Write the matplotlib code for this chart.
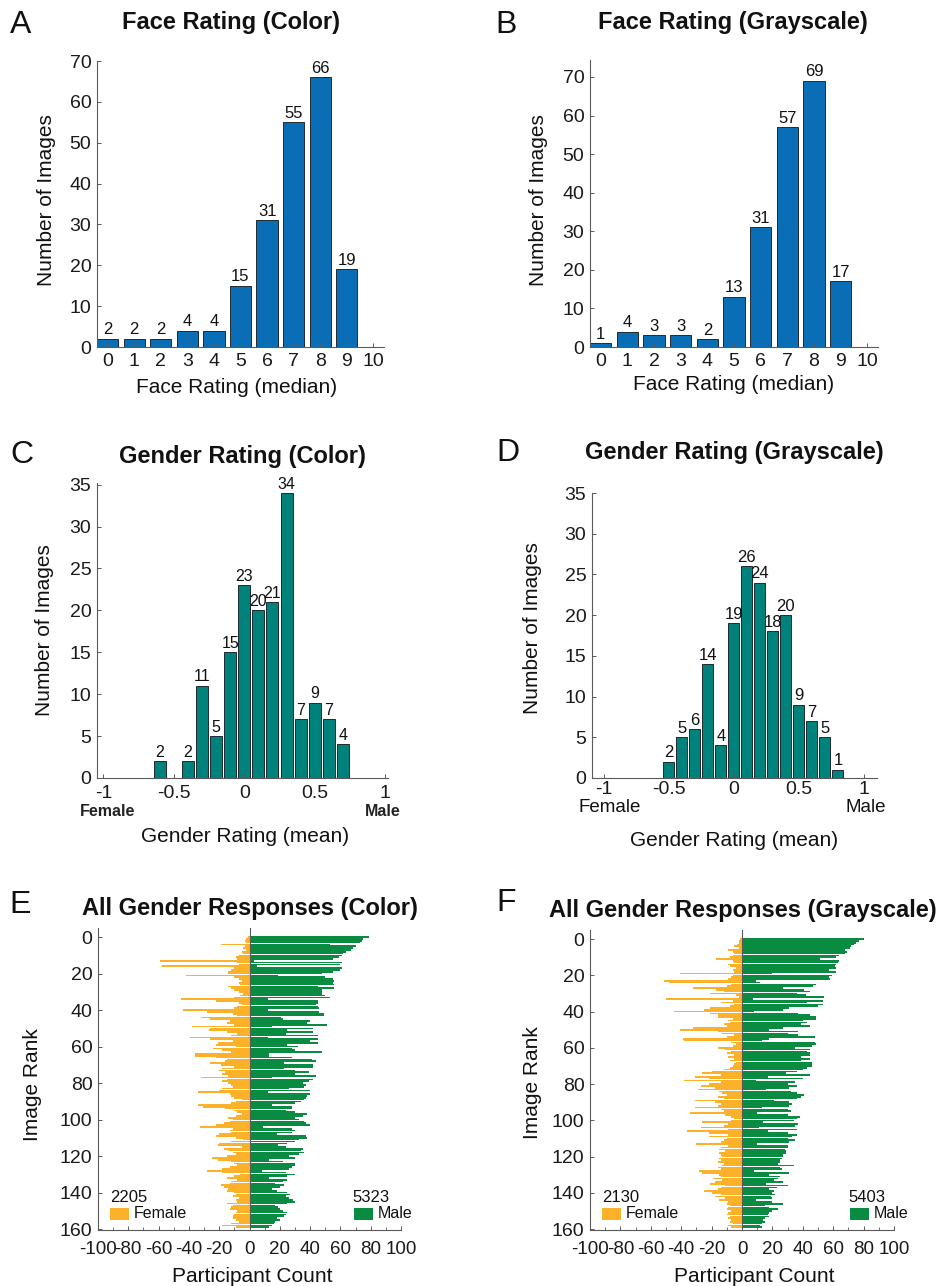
import numpy as np
import matplotlib
matplotlib.use("Agg")
import matplotlib.pyplot as plt
from matplotlib.patches import Rectangle

plt.rcParams['font.family'] = ['Liberation Sans', 'DejaVu Sans']
plt.rcParams['axes.unicode_minus'] = False

# ---------------- data ----------------
face_bins = [0, 1, 2, 3, 4, 5, 6, 7, 8, 9]
face_color = [2, 2, 2, 4, 4, 15, 31, 55, 66, 19]
face_gray = [1, 4, 3, 3, 2, 13, 31, 57, 69, 17]

gender_color_bins = [-0.6, -0.4, -0.3, -0.2, -0.1, 0.0, 0.1, 0.2, 0.3, 0.4, 0.5, 0.6, 0.7]
gender_color = [2, 2, 11, 5, 15, 23, 20, 21, 34, 7, 9, 7, 4]
gender_gray_bins = [-0.5, -0.4, -0.3, -0.2, -0.1, 0.0, 0.1, 0.2, 0.3, 0.4, 0.5, 0.6, 0.7, 0.8]
gender_gray = [2, 5, 6, 14, 4, 19, 26, 24, 18, 20, 9, 7, 5, 1]

color_male = [79, 75, 74, 73, 53, 70, 68, 67, 64, 62,
              61, 59, 55, 3, 61, 60, 5, 61, 60, 55,
              48, 19, 50, 55, 56, 55, 56, 45, 56, 48,
              48, 48, 50, 53, 12, 45, 45, 44, 45, 46,
              12, 46, 49, 49, 21, 22, 40, 38, 51, 15,
              42, 25, 42, 24, 45, 12, 45, 40, 45, 25,
              32, 28, 30, 48, 13, 13, 28, 41, 44, 23,
              42, 42, 23, 30, 39, 30, 44, 15, 42, 39,
              35, 37, 36, 26, 40, 12, 40, 38, 37, 36,
              34, 30, 15, 28, 28, 24, 30, 38, 35, 30,
              33, 36, 37, 40, 9, 28, 30, 28, 18, 37,
              38, 33, 30, 25, 19, 24, 35, 34, 36, 33,
              26, 30, 13, 22, 30, 30, 28, 26, 8, 24,
              30, 25, 13, 25, 22, 17, 23, 20, 15, 18,
              25, 27, 24, 26, 29, 30, 25, 17, 19, 20,
              22, 25, 24, 23, 18, 20, 17, 16, 15, 13]
color_female = [1, 2, 3, 2, 19, 3, 4, 2, 5, 4,
                7, 9, 8, 59, 8, 7, 58, 10, 12, 14,
                14, 42, 10, 7, 5, 7, 6, 14, 12, 10,
                7, 4, 6, 10, 45, 22, 7, 5, 8, 10,
                44, 28, 11, 8, 32, 26, 13, 15, 10, 38,
                26, 27, 15, 8, 12, 39, 26, 11, 21, 22,
                9, 24, 18, 12, 36, 36, 22, 15, 16, 26,
                19, 10, 18, 20, 16, 18, 14, 32, 15, 18,
                14, 12, 11, 18, 20, 34, 13, 12, 10, 5,
                9, 12, 34, 31, 16, 10, 8, 5, 9, 14,
                11, 13, 17, 22, 33, 11, 13, 12, 20, 22,
                9, 4, 12, 20, 21, 5, 17, 14, 11, 9,
                15, 25, 21, 12, 10, 8, 13, 18, 28, 18,
                6, 10, 15, 8, 12, 13, 19, 17, 14, 15,
                10, 9, 11, 7, 9, 8, 15, 11, 12, 13,
                8, 9, 10, 11, 11, 9, 7, 12, 18, 9]

gray_male = [80, 77, 75, 74, 72, 71, 68, 69, 68, 64,
             62, 51, 64, 63, 62, 61, 62, 57, 62, 20,
             59, 57, 58, 9, 12, 49, 47, 27, 41, 45,
             36, 42, 54, 7, 53, 43, 53, 50, 31, 27,
             8, 37, 45, 49, 49, 40, 43, 39, 45, 27,
             18, 37, 30, 37, 48, 18, 13, 48, 49, 46,
             35, 45, 43, 45, 45, 39, 45, 39, 46, 46,
             46, 43, 40, 36, 29, 45, 17, 40, 9, 35,
             30, 36, 31, 16, 32, 36, 41, 39, 36, 21,
             31, 33, 31, 13, 30, 32, 10, 30, 38, 36,
             34, 14, 37, 35, 11, 36, 17, 30, 36, 33,
             30, 35, 31, 10, 30, 30, 28, 29, 29, 27,
             27, 26, 25, 25, 24, 34, 25, 26, 8, 31,
             18, 25, 24, 21, 27, 16, 30, 23, 18, 21,
             20, 22, 19, 20, 9, 20, 27, 15, 18, 24,
             20, 18, 17, 18, 15, 14, 15, 13, 12, 13]
gray_female = [1, 2, 2, 3, 5, 2, 9, 6, 5, 6,
               8, 17, 6, 5, 9, 8, 4, 6, 5, 41,
               6, 7, 9, 51, 48, 7, 10, 32, 17, 12,
               21, 4, 2, 50, 6, 14, 5, 8, 21, 25,
               45, 21, 16, 16, 6, 9, 8, 12, 10, 32,
               41, 16, 13, 5, 10, 39, 38, 7, 4, 6,
               16, 11, 7, 10, 5, 9, 5, 8, 4, 5,
               6, 8, 12, 20, 26, 14, 31, 22, 38, 14,
               22, 27, 18, 29, 15, 13, 10, 16, 12, 31,
               18, 14, 16, 31, 14, 12, 34, 11, 7, 5,
               7, 26, 9, 12, 27, 9, 36, 22, 9, 22,
               10, 12, 14, 30, 9, 14, 15, 11, 15, 14,
               13, 15, 14, 16, 12, 13, 16, 14, 28, 26,
               15, 14, 19, 13, 18, 21, 11, 14, 16, 25,
               20, 14, 18, 11, 15, 9, 10, 8, 9, 10,
               7, 9, 10, 8, 9, 7, 8, 6, 9, 7]

color_totals = (2205, 5323)
gray_totals = (2130, 5403)

# ---------------- styling ----------------
W, H = 942, 1286
BLUE = '#0A6EB6'
TEAL = '#00827C'
ORANGE = '#FCB12A'
GREEN = '#0A8B42'
SPINE = '#5a5a5a'
TICK_FS = 14
LABEL_FS = 15
TITLE_FS = 17
BARLAB_FS = 12
LETTER_FS = 23

fig = plt.figure(figsize=(W / 100, H / 100), dpi=100)


def rect(l, t, r, b):
    return [l / W, 1 - b / H, (r - l) / W, (b - t) / H]


def ftext(x, y, s, **kw):
    fig.text(x / W, 1 - y / H, s, **kw)


def style(ax, fs=TICK_FS):
    for s in ['top', 'right']:
        ax.spines[s].set_visible(False)
    for s in ['left', 'bottom']:
        ax.spines[s].set_color(SPINE)
        ax.spines[s].set_linewidth(0.8)
    ax.tick_params(direction='in', length=3, width=0.7, color=SPINE,
                   labelsize=fs, labelcolor='#1a1a1a', pad=4)
    ax.tick_params(which='minor', direction='in', length=2, width=0.6, color=SPINE)


def hist_panel(r, bins, counts, color, width, xlim, ylim, yticks, xticks, xticklabels, lab_fs=BARLAB_FS):
    ax = fig.add_axes(rect(*r))
    bars = ax.bar(bins, counts, width=width, color=color, edgecolor='#1f2a33', linewidth=0.7)
    ax.bar_label(bars, labels=[str(c) for c in counts], padding=1, fontsize=lab_fs, color='#111111')
    ax.set_xlim(*xlim)
    ax.set_ylim(*ylim)
    ax.set_yticks(yticks)
    ax.set_xticks(xticks)
    ax.set_xticklabels(xticklabels)
    style(ax)
    return ax


# A
hist_panel((97, 61, 384, 347), face_bins, face_color, BLUE, 0.8, (-0.4, 10.4), (0, 70),
           range(0, 71, 10), range(0, 11), [str(i) for i in range(11)])
# B
hist_panel((590, 60, 878, 347), face_bins, face_gray, BLUE, 0.8, (-0.4, 10.4), (0, 74.4),
           range(0, 71, 10), range(0, 11), [str(i) for i in range(11)])
# C
axC = hist_panel((97, 483, 388, 778), gender_color_bins, gender_color, TEAL, 0.085, (-1.045, 1.02), (0, 35.2),
                 range(0, 36, 5), [-1, -0.5, 0, 0.5, 1], ['-1', '-0.5', '0', '0.5', '1'], lab_fs=11.5)
axC.tick_params(axis='x', pad=5)
# D
axD = hist_panel((592, 493, 877, 778), gender_gray_bins, gender_gray, TEAL, 0.085, (-1.09, 1.10), (0, 35),
                 range(0, 36, 5), [-1, -0.5, 0, 0.5, 1], ['-1', '-0.5', '0', '0.5', '1'])
axD.tick_params(axis='x', pad=2)

# Female / Male annotations under C and D
ftext(108, 812, 'Female', ha='center', va='center', fontsize=11.5, fontweight='bold', color='#222222')
ftext(383, 812, 'Male', ha='center', va='center', fontsize=11.5, fontweight='bold', color='#222222')
ftext(610, 808, 'Female', ha='center', va='center', fontsize=13.5, color='#111111')
ftext(866, 808, 'Male', ha='center', va='center', fontsize=13.5, color='#111111')


def resp_panel(r, male, female, totals, leg):
    ax = fig.add_axes(rect(*r))
    ranks = np.arange(len(male))
    ax.barh(ranks, male, height=0.9, color=GREEN, linewidth=0, antialiased=False)
    ax.barh(ranks, -np.asarray(female), height=0.9, color=ORANGE, linewidth=0, antialiased=False)
    ax.axvline(0, color=SPINE, linewidth=0.8)
    ax.set_xlim(-100, 100)
    ax.set_ylim(160.5, -5)
    ax.set_xticks(range(-100, 101, 20))
    ax.set_xticks(range(-100, 101, 10), minor=True)
    ax.set_yticks(range(0, 161, 20))
    style(ax)
    ax.tick_params(axis='x', pad=8, labelsize=13.5)
    fx, mx = leg
    ftext(fx, 1197, str(totals[0]), ha='left', va='center', fontsize=12, color='#111111')
    fig.patches.append(Rectangle((fx / W, 1 - 1220 / H), 19 / W, 12 / H, transform=fig.transFigure,
                                 facecolor=ORANGE, edgecolor='none'))
    ftext(fx + 24, 1214, 'Female', ha='left', va='center', fontsize=11.5, color='#111111')
    ftext(mx, 1197, str(totals[1]), ha='left', va='center', fontsize=12, color='#111111')
    fig.patches.append(Rectangle(((mx + 2) / W, 1 - 1220 / H), 19 / W, 12 / H, transform=fig.transFigure,
                                 facecolor=GREEN, edgecolor='none'))
    ftext(mx + 26, 1214, 'Male', ha='left', va='center', fontsize=11.5, color='#111111')
    return ax


resp_panel((98, 928, 401, 1230), color_male, color_female, color_totals, (110, 352))
resp_panel((590, 930, 894, 1230), gray_male, gray_female, gray_totals, (602, 848))

# titles
for (x, y, s) in [(231, 23, 'Face Rating (Color)'), (733, 23, 'Face Rating (Grayscale)'),
                  (242, 457, 'Gender Rating (Color)'), (734, 452, 'Gender Rating (Grayscale)'),
                  (250, 908, 'All Gender Responses (Color)'), (743, 910, 'All Gender Responses (Grayscale)')]:
    ftext(x, y, s, ha='center', va='center', fontsize=TITLE_FS, fontweight='bold', color='#111111')

# panel letters
for (x, y, s) in [(21, 25, 'A'), (506, 25, 'B'), (22, 455, 'C'), (508, 453, 'D'),
                  (20, 905, 'E'), (506, 903, 'F')]:
    ftext(x, y, s, ha='center', va='center', fontsize=LETTER_FS, color='#111111')

# axis labels
for (x, y, s) in [(237, 387, 'Face Rating (median)'), (734, 385, 'Face Rating (median)'),
                  (245, 836, 'Gender Rating (mean)'), (734, 840, 'Gender Rating (mean)'),
                  (252, 1277, 'Participant Count'), (754, 1277, 'Participant Count')]:
    ftext(x, y, s, ha='center', va='center', fontsize=LABEL_FS, color='#111111')
for (x, y, s) in [(47, 200, 'Number of Images'), (539, 200, 'Number of Images'),
                  (45, 630, 'Number of Images'), (533, 628, 'Number of Images'),
                  (33, 1085, 'Image Rank'), (533, 1083, 'Image Rank')]:
    ftext(x, y, s, ha='center', va='center', fontsize=LABEL_FS, rotation=90, color='#111111')

fig.savefig('out.png', dpi=100, facecolor='white')
